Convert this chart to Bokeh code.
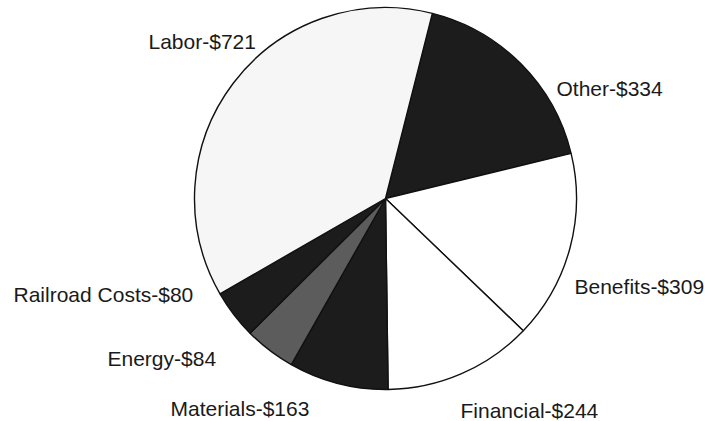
import numpy as np
from bokeh.plotting import figure
from bokeh.models import ColumnDataSource, Range1d
from bokeh.core.properties import value
from bokeh.embed import file_html
from bokeh.resources import INLINE

# ---- data (clockwise order starting after Labor) ----
categories = ["Other", "Benefits", "Financial", "Materials", "Energy", "Railroad Costs", "Labor"]
amounts = [334, 309, 244, 163, 84, 80, 721]
labels = ["Other-$334", "Benefits-$309", "Financial-$244", "Materials-$163",
          "Energy-$84", "Railroad Costs-$80", "Labor-$721"]

# ---- style / layout ----
colors = ["#1c1c1c", "#ffffff", "#ffffff", "#1c1c1c", "#5c5c5c", "#1c1c1c", "#f6f6f6"]
W, H = 725, 421
CX, CY, R = 385, 198, 191          # screen pixels (page coords)
START_OFFSET = 14.2                # degrees clockwise from 12 o'clock
# label left-edge x and baseline y (page coords)
label_pos = [(556, 88), (574, 286), (460, 410), (170, 408), (107, 358), (13, 294), (148, 41)]

def to_y(sy):
    return H - sy

vals = np.array(amounts, dtype=float)
frac = vals / vals.sum() * 360.0
cum = np.concatenate([[0], np.cumsum(frac)]) + START_OFFSET
theta_s = cum[:-1]
theta_e = cum[1:]
start = 90 - theta_s
end = 90 - theta_e

src = ColumnDataSource(dict(cat=categories, start=np.radians(start), end=np.radians(end),
                            color=colors))

p = figure(width=W, height=H, output_backend="svg", toolbar_location=None,
           x_range=Range1d(0, W), y_range=Range1d(0, H), min_border=0,
           background_fill_color="white", border_fill_color="white")
p.axis.visible = False
p.grid.visible = False
p.outline_line_color = None

p.wedge(x=CX, y=to_y(CY), radius=R, start_angle="start", end_angle="end",
        direction="clock", fill_color="color", line_color="#111111", line_width=1.4,
        source=src)

tsrc = ColumnDataSource(dict(x=[lp[0] for lp in label_pos],
                             y=[to_y(lp[1]) for lp in label_pos],
                             t=labels))
p.text(x="x", y="y", text="t", source=tsrc, text_font=value("Liberation Sans"),
       text_font_size="21px", text_align="left", text_baseline="alphabetic",
       text_color="#1a1a1a")

open("out.html", "w").write(file_html(p, INLINE))
